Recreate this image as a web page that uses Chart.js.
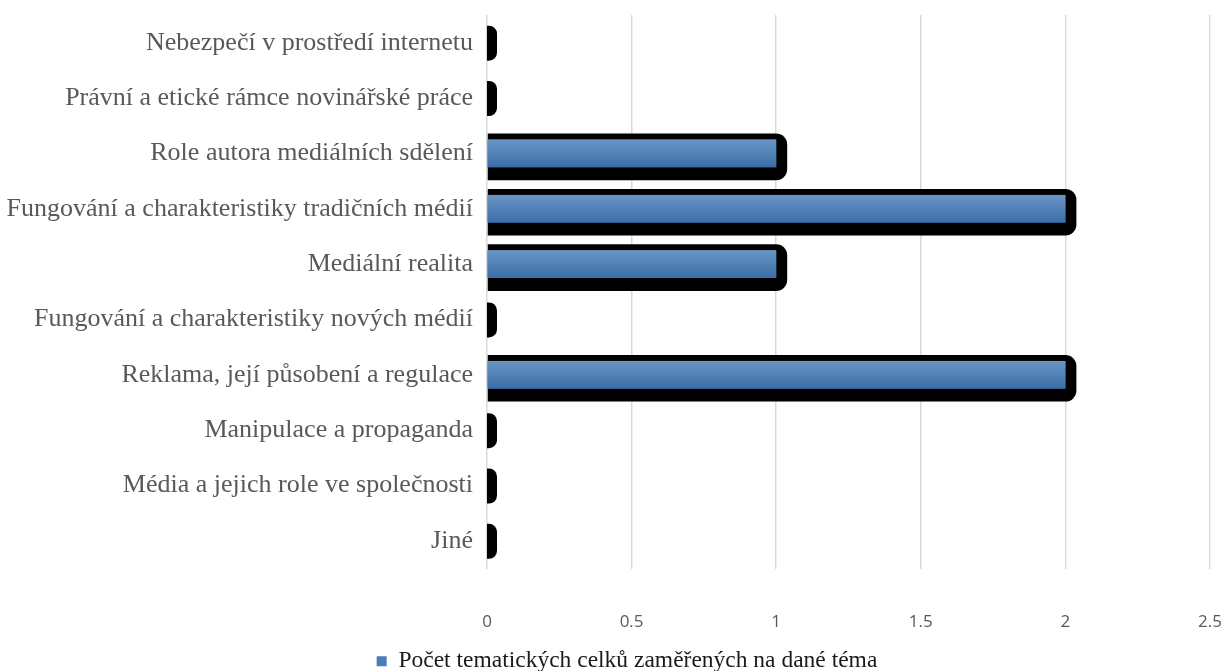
<!DOCTYPE html>
<html>
<head>
<meta charset="utf-8">
<script src="https://cdn.jsdelivr.net/npm/chart.js@4"></script>
<style>
  html, body { margin: 0; padding: 0; background: #fff; }
  #wrap { width: 1226px; height: 671px; }
</style>
</head>
<body>
<div id="wrap"><canvas id="chart"></canvas></div>
<script>
const topics = [
    'Nebezpečí v prostředí internetu',
    'Právní a etické rámce novinářské práce',
    'Role autora mediálních sdělení',
    'Fungování a charakteristiky tradičních médií',
    'Mediální realita',
    'Fungování a charakteristiky nových médií',
    'Reklama, její působení a regulace',
    'Manipulace a propaganda',
    'Média a jejich role ve společnosti',
    'Jiné'
];
const counts = [0, 0, 1, 2, 1, 0, 2, 0, 0, 0];
const seriesName = 'Počet tematických celků zaměřených na dané téma';

// black rounded outline behind each bar, gradient on top
const barLook = {
    id: 'barLook',
    afterLayout(chart) {
        // legend sits a bit right of the canvas centre in the original
        chart.legend.left += 22;
        chart.legend.right += 22;
    },
    beforeDatasetsDraw(chart) {
        const c = chart.ctx;
        chart.getDatasetMeta(0).data.forEach(bar => {
            const len = bar.x - bar.base;
            c.save();
            c.fillStyle = '#000';
            c.beginPath();
            if (len <= 0) {
                // zero value: only a small black stub at the axis
                c.roundRect(bar.base, bar.y - 17, 10, 35, [0, 8, 8, 0]);
            } else {
                const h = bar.height;
                c.roundRect(bar.base, bar.y - h / 2 - 6, len + 11, h + 19, [0, 11, 11, 0]);
            }
            c.fill();
            c.restore();
        });
    },
    afterDatasetsDraw(chart) {
        const c = chart.ctx;
        chart.getDatasetMeta(0).data.forEach(bar => {
            const w = bar.x - bar.base;
            if (w <= 0) return;
            const top = bar.y - bar.height / 2;
            const g = c.createLinearGradient(0, top, 0, top + bar.height);
            g.addColorStop(0, '#6a95c6');
            g.addColorStop(1, '#3a6ea8');
            c.save();
            c.fillStyle = g;
            c.fillRect(bar.base, top, w, bar.height);
            c.restore();
        });
    }
};

const ctx = document.getElementById('chart');

const myChart = new Chart(ctx, {
    type: 'bar',
    data: {
        labels: topics,
        datasets: [{
            label: seriesName,
            data: counts,
            backgroundColor: '#4a7ebb',
            borderWidth: 0,
            categoryPercentage: 1,
            barPercentage: 0.5
        }]
    },
    plugins: [barLook],
    options: {
        indexAxis: 'y',
        responsive: true,
        maintainAspectRatio: false,
        animation: false,
        layout: { padding: { top: 15, right: 16, left: 0, bottom: -12 } },
        plugins: {
            tooltip: { enabled: false },
            legend: {
                position: 'bottom',
                labels: {
                    color: '#1a1a1a',
                    font: { family: 'Liberation Serif', size: 23.5 },
                    boxWidth: 10,
                    boxHeight: 10,
                    padding: 1
                }
            }
        },
        scales: {
            x: {
                min: 0,
                max: 2.5,
                ticks: {
                    stepSize: 0.5,
                    color: '#595959',
                    font: { family: 'Open Sans', size: 17 },
                    padding: 43,
                    maxRotation: 0,
                    callback: v => String(v)
                },
                grid: { color: '#d9d9d9', lineWidth: 1.5, drawTicks: false },
                border: { display: false },
                afterFit(scale) {
                    scale.height = 80;
                    scale.paddingLeft = 0;
                    scale.paddingRight = 0;
                }
            },
            y: {
                ticks: {
                    color: '#595959',
                    font: { family: 'Liberation Serif', size: 26 },
                    padding: 6
                },
                grid: { display: false },
                border: { display: false },
                afterFit(scale) {
                    scale.width = 487;
                    scale.paddingTop = 0;
                    scale.paddingBottom = 0;
                }
            }
        }
    }
});
</script>
</body>
</html>
